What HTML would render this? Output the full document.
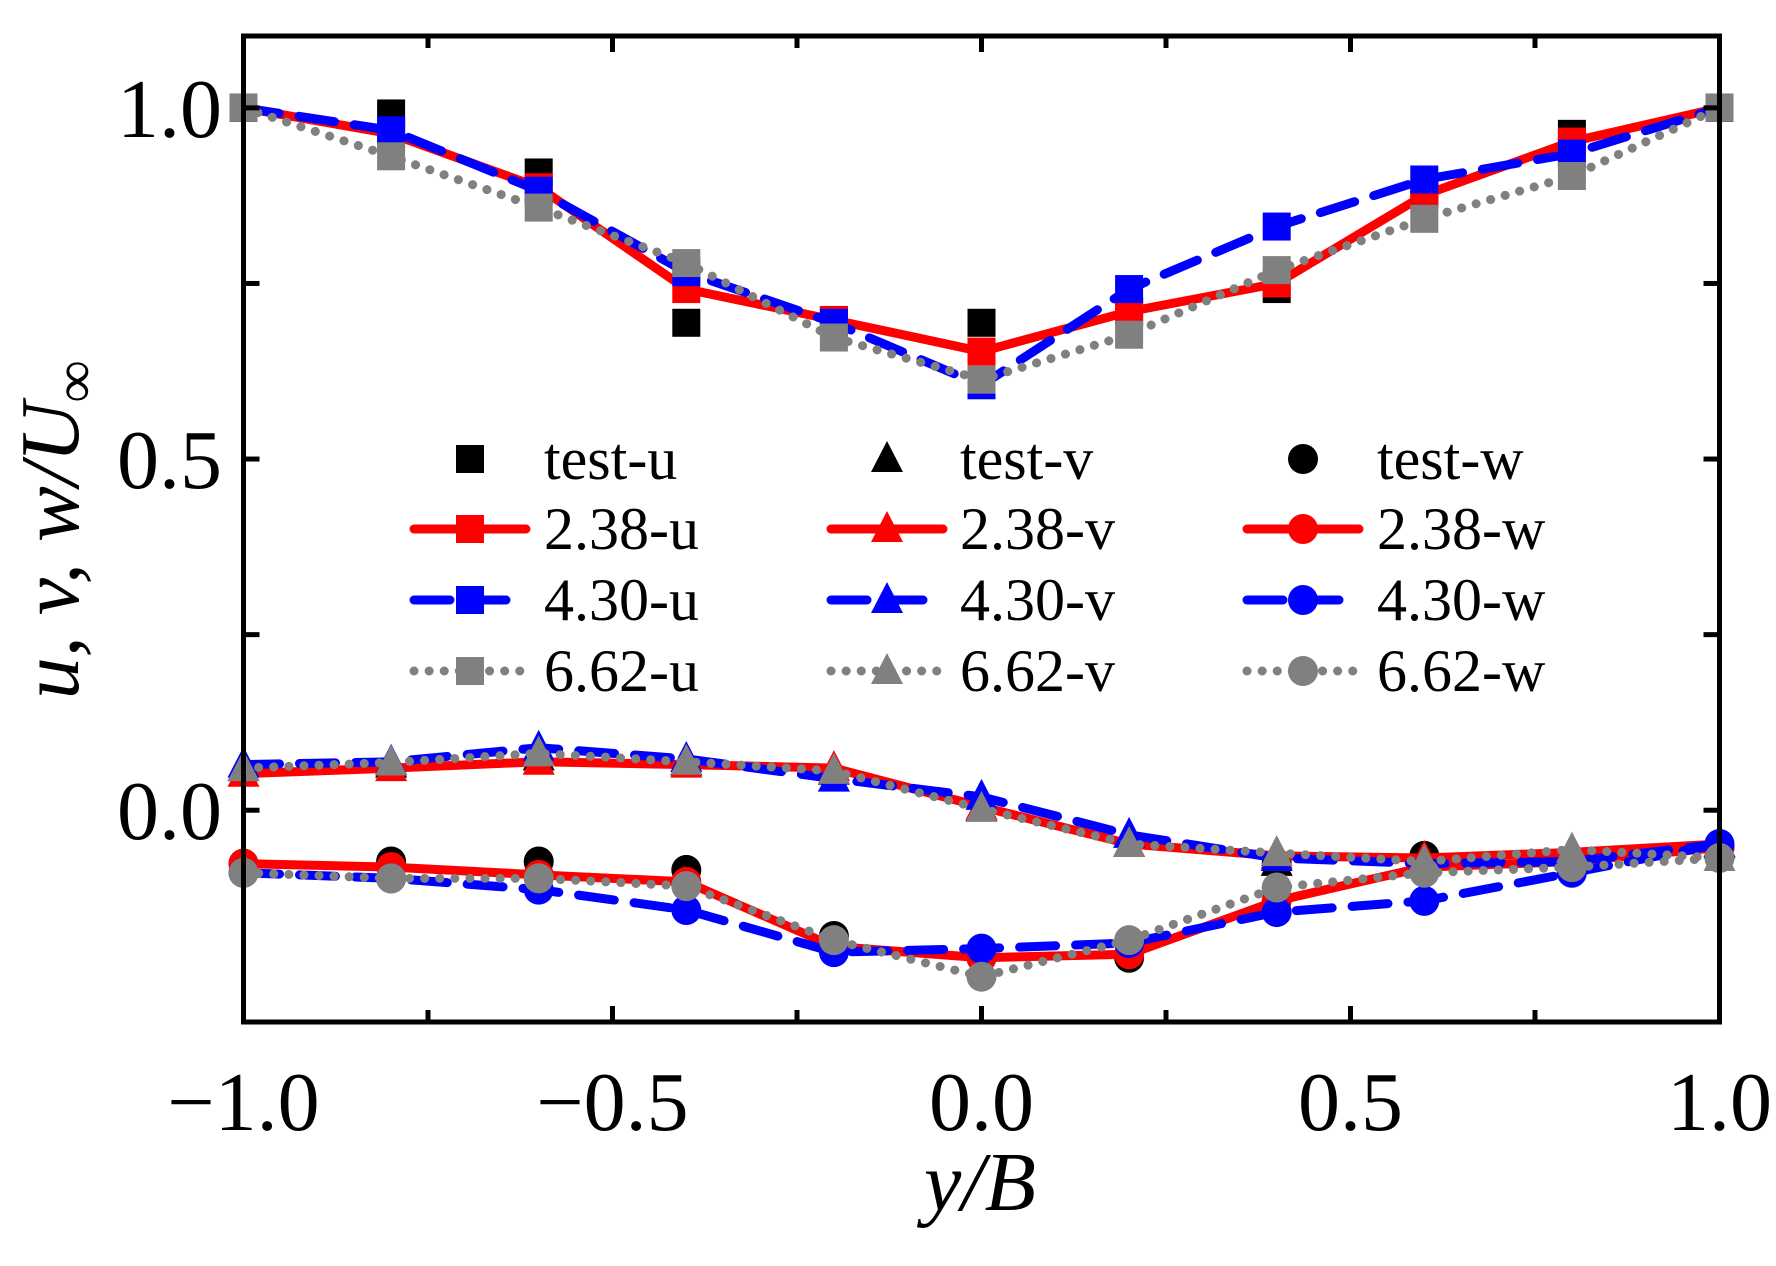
<!DOCTYPE html>
<html><head><meta charset="utf-8"><style>
html,body{margin:0;padding:0;background:#fff;}
svg{display:block;font-family:"Liberation Serif",serif;}
</style></head><body>
<svg id="chart" width="1776" height="1266" viewBox="0 0 1776 1266">
<g id="plot"></g>
<g id="axes"></g>
<g id="legend"></g>
</svg>
<script>
const xCats = [-1,-0.8,-0.6,-0.4,-0.2,0,0.2,0.4,0.6,0.8,1];
const testU = [1.0,0.992,0.908,0.694,0.698,0.694,0.71,0.742,0.876,0.963,1.0];
const u238 = [1.0,0.963,0.887,0.742,0.698,0.653,0.71,0.75,0.876,0.952,1.0];
const u430 = [1.0,0.968,0.882,0.766,0.694,0.605,0.742,0.831,0.898,0.935,1.0];
const u662 = [1.0,0.931,0.858,0.779,0.673,0.613,0.677,0.769,0.842,0.903,1.0];
const testV = [0.06,0.065,0.075,0.068,0.055,0.003,-0.048,-0.075,-0.07,-0.058,-0.05];
const v238 = [0.052,0.06,0.069,0.065,0.06,0.005,-0.048,-0.065,-0.068,-0.06,-0.048];
const v430 = [0.065,0.069,0.089,0.073,0.045,0.019,-0.035,-0.068,-0.076,-0.073,-0.048];
const v662 = [0.06,0.068,0.081,0.069,0.056,0.002,-0.048,-0.061,-0.073,-0.056,-0.068];
const testW = [-0.076,-0.073,-0.073,-0.085,-0.179,-0.21,-0.21,-0.076,-0.065,-0.073,-0.053];
const w238 = [-0.076,-0.081,-0.092,-0.102,-0.194,-0.21,-0.205,-0.129,-0.081,-0.073,-0.053];
const w430 = [-0.089,-0.097,-0.113,-0.142,-0.202,-0.197,-0.189,-0.145,-0.129,-0.089,-0.048];
const w662 = [-0.089,-0.097,-0.097,-0.108,-0.185,-0.237,-0.185,-0.11,-0.089,-0.081,-0.068];
const xTicks = [-1,-0.5,0,0.5,1];
const xTickLabels = ["\u22121.0","\u22120.5","0.0","0.5","1.0"];
const yTicks = [0,0.5,1];
const yTickLabels = ["0.0","0.5","1.0"];

const NS="http://www.w3.org/2000/svg";
const L=243.5,R=1719.5,T=36,B=1022;
const X0=-1,X1=1,Y0=-0.3015,Y1=1.1023;
function sx(v){return L+(v-X0)/(X1-X0)*(R-L);}
function sy(v){return B-(v-Y0)/(Y1-Y0)*(B-T);}
function mk(tag,attrs,parent){const e=document.createElementNS(NS,tag);for(const k in attrs)e.setAttribute(k,attrs[k]);parent.appendChild(e);return e;}
const plot=document.getElementById('plot'),axes=document.getElementById('axes'),leg=document.getElementById('legend');

const styles={
 red:{stroke:'#ff0000',dash:null,w:9,cap:'round'},
 blue:{stroke:'#0000ff',dash:'36 20',w:9,cap:'round'},
 gray:{stroke:'#808080',dash:'0.1 15',w:9,cap:'round'}
};
function marker(shape,cx,cy,fill,parent,name){
 let e;
 if(shape==='sq') e=mk('rect',{x:cx-14,y:cy-14,width:28,height:28,fill:fill},parent);
 else if(shape==='tri') e=mk('polygon',{points:`${cx},${cy-18} ${cx-16},${cy+13} ${cx+16},${cy+13}`,fill:fill},parent);
 else e=mk('circle',{cx:cx,cy:cy,r:15,fill:fill},parent);
 
 
 return e;
}
function series(vals,st,shape,fill,name){
 const g=mk('g',{},plot);
 
 
 if(st){
  const p=mk('polyline',{points:xCats.map((x,i)=>sx(x)+','+sy(vals[i])).join(' '),fill:'none',stroke:st.stroke,'stroke-width':st.w,'stroke-linecap':st.cap,'stroke-linejoin':'round'},g);
  if(st.dash)p.setAttribute('stroke-dasharray',st.dash);
  
  
 }
 xCats.forEach((x,i)=>marker(shape,sx(x),sy(vals[i]),fill,g,name+'-point'));
}
series(testU,null,'sq','#000','test-u');
series(testV,null,'tri','#000','test-v');
series(testW,null,'ci','#000','test-w');
series(u238,styles.red,'sq','#ff0000','u-2-38');
series(v238,styles.red,'tri','#ff0000','v-2-38');
series(w238,styles.red,'ci','#ff0000','w-2-38');
series(u430,styles.blue,'sq','#0000ff','u-4-30');
series(v430,styles.blue,'tri','#0000ff','v-4-30');
series(w430,styles.blue,'ci','#0000ff','w-4-30');
series(u662,styles.gray,'sq','#808080','u-6-62');
series(v662,styles.gray,'tri','#808080','v-6-62');
series(w662,styles.gray,'ci','#808080','w-6-62');

const fr=mk('rect',{x:L,y:T,width:R-L,height:B-T,fill:'none',stroke:'#000','stroke-width':5},axes);


for(let v=-1;v<=1.001;v+=0.25){
 const x=sx(v);const maj=Math.abs(v*2-Math.round(v*2))<1e-6;const len=maj?16:12;
 mk('line',{x1:x,y1:B,x2:x,y2:B-len,stroke:'#000','stroke-width':5},axes);
 mk('line',{x1:x,y1:T,x2:x,y2:T+len,stroke:'#000','stroke-width':5},axes);
}
for(let v=0;v<=1.001;v+=0.25){
 const y=sy(v);const len=16;
 mk('line',{x1:L,y1:y,x2:L+len,y2:y,stroke:'#000','stroke-width':5},axes);
 mk('line',{x1:R,y1:y,x2:R-len,y2:y,stroke:'#000','stroke-width':5},axes);
}
xTicks.forEach((v,i)=>{
 const t=mk('text',{x:sx(v),y:1130,'font-size':84,'text-anchor':'middle',fill:'#000'},axes);
 t.textContent=xTickLabels[i];
 
 
});
yTicks.forEach((v,i)=>{
 const t=mk('text',{x:222,y:sy(v)+29,'font-size':84,'text-anchor':'end',fill:'#000'},axes);
 t.textContent=yTickLabels[i];
 
 
});
</script>
<script>
(function(){
 const svg=document.getElementById('chart');
 const NS="http://www.w3.org/2000/svg";
 const xl=document.createElementNS(NS,'text');
 xl.setAttribute('x',980);xl.setAttribute('y',1210);xl.setAttribute('font-size',84);
 xl.setAttribute('font-style','italic');xl.setAttribute('text-anchor','middle');
 xl.textContent='y/B';
 
 
 svg.appendChild(xl);
 const yl=document.createElementNS(NS,'text');
 yl.setAttribute('transform','translate(78,530) rotate(-90)');
 yl.setAttribute('font-size',84);yl.setAttribute('font-style','italic');yl.setAttribute('text-anchor','middle');
 yl.innerHTML='u, v, w/U<tspan font-size="58" dy="16">\u221E</tspan>';
 
 
 svg.appendChild(yl);

 const leg=document.getElementById('legend');
 const rows=[459,529,600,671];
 const cols=[{c:470,t:544,s:'sq',k:'u'},{c:887,t:960,s:'tri',k:'v'},{c:1303,t:1377,s:'ci',k:'w'}];
 const rowDefs=[{lab:'test',col:'#000',st:null},{lab:'2.38',col:'#ff0000',st:{d:null}},{lab:'4.30',col:'#0000ff',st:{d:'36 20'}},{lab:'6.62',col:'#808080',st:{d:'0.1 15'}}];
 rowDefs.forEach((r,ri)=>{
  cols.forEach(c=>{
   const y=rows[ri];
   const g=document.createElementNS(NS,'g');
   
   
   leg.appendChild(g);
   if(r.st){
    const ln=document.createElementNS(NS,'line');
    ln.setAttribute('x1',c.c-56);ln.setAttribute('x2',c.c+56);ln.setAttribute('y1',y);ln.setAttribute('y2',y);
    ln.setAttribute('stroke',r.col);ln.setAttribute('stroke-width',9);ln.setAttribute('stroke-linecap','round');
    if(r.st.d)ln.setAttribute('stroke-dasharray',r.st.d);
    g.appendChild(ln);
   }
   let m;
   if(c.s==='sq'){m=document.createElementNS(NS,'rect');m.setAttribute('x',c.c-14);m.setAttribute('y',y-14);m.setAttribute('width',28);m.setAttribute('height',28);}
   else if(c.s==='tri'){m=document.createElementNS(NS,'polygon');m.setAttribute('points',`${c.c},${y-18} ${c.c-16},${y+13} ${c.c+16},${y+13}`);}
   else {m=document.createElementNS(NS,'circle');m.setAttribute('cx',c.c);m.setAttribute('cy',y);m.setAttribute('r',15);}
   m.setAttribute('fill',r.col);g.appendChild(m);
   const t=document.createElementNS(NS,'text');
   t.setAttribute('x',c.t);t.setAttribute('y',y+20);t.setAttribute('font-size',60);
   t.textContent=r.lab+'-'+c.k;g.appendChild(t);
  });
 });
})();
</script>
</body></html>
